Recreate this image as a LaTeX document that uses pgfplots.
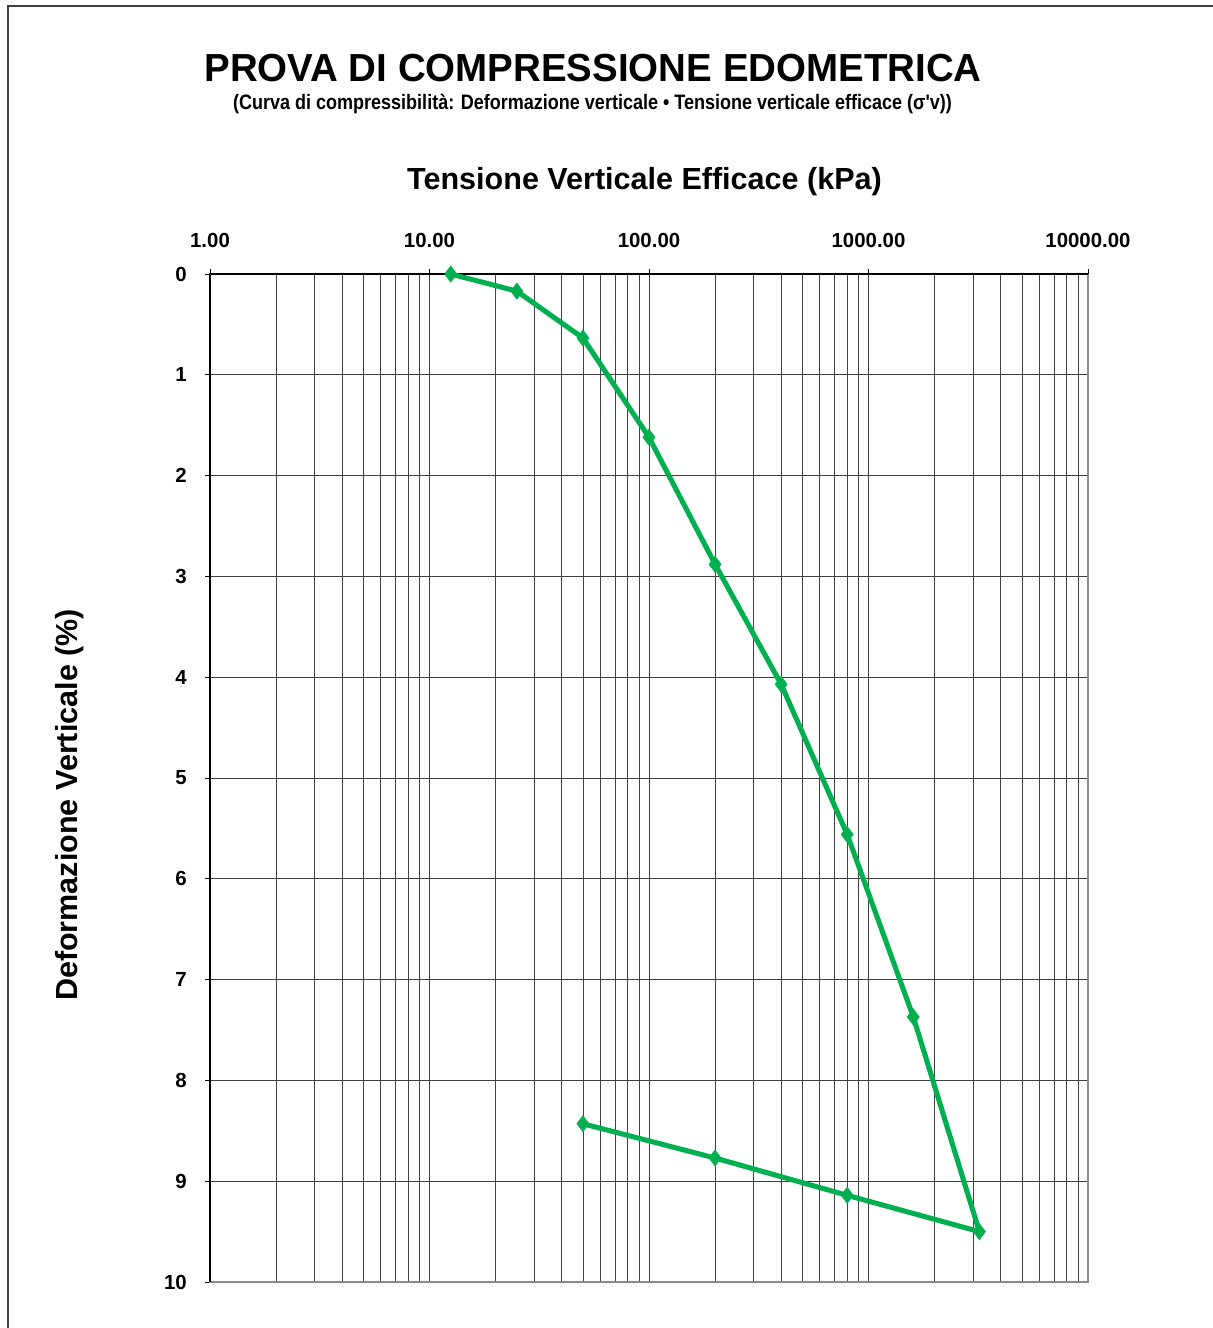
\documentclass[border=0pt]{standalone}
\usepackage{fontspec}
\setmainfont{Liberation Sans}[Ligatures=TeXOff]
\usepackage{graphicx}
\usepackage{pgfplots}
\pgfplotsset{compat=1.18}
\definecolor{curva}{HTML}{00B050}
\definecolor{griglia}{HTML}{404040}

% edometric curve: load + unload
\pgfplotstableread{
s eps
12.5 0
25 0.17
50 0.635
100 1.62
200 2.88
400 4.07
800 5.56
1600 7.37
3200 9.50
800 9.14
200 8.77
50 8.43
}\edo

\begin{document}
\begin{tikzpicture}[x=0.75pt,y=0.75pt]
\useasboundingbox (0,0) rectangle (1213,1328);
\draw[black!75,line width=1.2pt] (8,0) -- (8,1322) -- (1213,1322);

\node[anchor=base,inner sep=0pt] at (593,1246)
  {\resizebox{582.75pt}{20.5pt}{\bfseries PROVA DI COMPRESSIONE EDOMETRICA}};
\node[anchor=base,inner sep=0pt] at (592.5,1218)
  {\resizebox{539pt}{11.5pt}{\bfseries (Curva di compressibilità: Deformazione verticale • Tensione verticale efficace (σ'v))}};

\begin{axis}[
  at={(157.5pt,34.5pt)}, anchor=south west,
  width=658.5pt, height=756pt, scale only axis,
  xmode=log, xmin=1, xmax=10000,
  ymin=0, ymax=10, y dir=reverse,
  xtick={1,10,100,1000,10000},
  xticklabels={1.00,10.00,100.00,1000.00,10000.00},
  minor xtick={2,3,4,5,6,7,8,9,20,30,40,50,60,70,80,90,200,300,400,500,600,700,800,900,2000,3000,4000,5000,6000,7000,8000,9000},
  ytick={0,1,...,10},
  /pgf/number format/assume math mode=true,
  xtick pos=right, ytick pos=left,
  xticklabel pos=right,
  tick align=outside, major tick length=3.75pt, minor tick length=0pt,
  tick style={black, line width=0.6pt},
  xmajorgrids, xminorgrids, ymajorgrids,
  grid style={griglia, line width=0.6pt},
  minor grid style={griglia, line width=0.6pt},
  axis line style={draw=none},
  ticklabel style={font=\fontsize{15.3}{18}\selectfont\bfseries},
  xticklabel style={anchor=base, inner sep=0pt, yshift=16.5pt},
  yticklabel style={anchor=east, inner sep=0pt, xshift=-13.5pt},
  clip=false,
]
\draw[black!45, line width=1.5pt] (rel axis cs:0,1) -- (rel axis cs:0,0) -- (rel axis cs:1,0) -- (rel axis cs:1,1);
\draw[black, line width=1.2pt] (rel axis cs:0,0) -- (rel axis cs:0,1) -- (rel axis cs:1,1);
\addplot[curva, line width=3.8pt, mark=diamond*, mark size=6pt, mark options={solid, line width=0.5pt}] table[x=s,y=eps] {\edo};
\end{axis}

\node[anchor=base,inner sep=0pt] at (644.5,1138)
  {\fontsize{22.9}{26}\selectfont\bfseries Tensione Verticale Efficace (kPa)};
\node[anchor=base,inner sep=0pt,rotate=90] at (77,523)
  {\fontsize{22.9}{26}\selectfont\bfseries Deformazione Verticale (\%)};
\end{tikzpicture}
\end{document}
